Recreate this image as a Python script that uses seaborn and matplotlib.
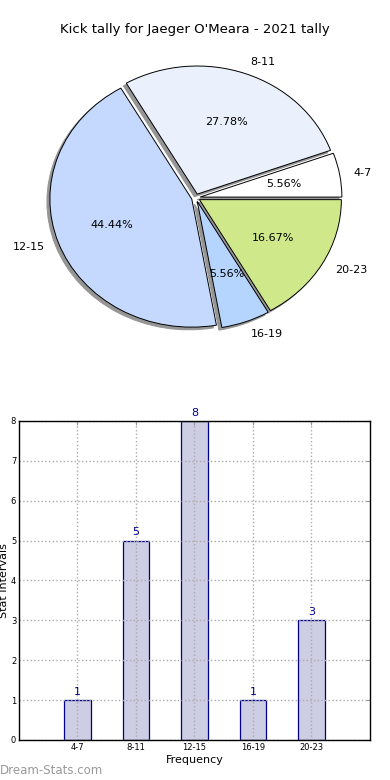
import seaborn as sns
import numpy as np
from matplotlib import pyplot as plt

intervals = ['4-7', '8-11', '12-15', '16-19', '20-23']
counts = [1, 5, 8, 1, 3]
pie_colors = ['#ffffff', '#eaf1fd', '#c5d8fd', '#b5d5fe', '#cfe98a']
title = "Kick tally for Jaeger O'Meara - 2021 tally"

sns.set_style('white')
plt.rcParams['font.family'] = ['DejaVu Sans']
plt.rcParams['text.color'] = 'black'
plt.rcParams['axes.labelcolor'] = 'black'

fig = plt.figure(figsize=[3.9, 7.8], dpi=100)

# pie on top (stretched a little wider than tall, like the original)
ax1 = fig.add_axes([0.029, 0.533, 0.946, 0.427])
wedges, texts, autotexts = ax1.pie(
    counts, labels=intervals, colors=pie_colors, explode=[0.03] * 5,
    autopct='%.2f%%', shadow={'ox': -0.015, 'oy': -0.015, 'color': '#959595',
                              'alpha': 1},
    startangle=0,
    wedgeprops={'edgecolor': 'black', 'linewidth': 0.7},
    textprops={'fontsize': 8, 'color': 'black'})
ax1.set_aspect('auto')
ax1.set_xlim(-1.3, 1.3)
ax1.set_ylim(-1.3, 1.3)
ax1.axis('off')
fig.text(0.5, 1 - 30 / 780, title, ha='center', va='center', fontsize=9.5)

# bar chart below
ax2 = fig.add_axes([0.0487, 0.0513, 0.9, 0.409])
sns.barplot(x=intervals, y=counts, color='#cdcde3', edgecolor='#00008b',
            linewidth=0.9, saturation=1, width=0.45, ax=ax2)
for i, c in enumerate(counts):
    ax2.text(i, c + 0.08, str(c), ha='center', va='bottom',
             color='#00008b', fontsize=8)
ax2.set_xlim(-1, 5)
ax2.set_ylim(0, 8)
ax2.set_yticks(range(0, 9))
ax2.set_axisbelow(False)
ax2.grid(True, linestyle=':', color='#aaaaaa', linewidth=1)
ax2.tick_params(axis='both', labelsize=6, length=3, direction='in',
                color='#999999', labelcolor='black', right=True, top=True,
                pad=2)
for sp in ax2.spines.values():
    sp.set_color('black')
    sp.set_linewidth(1)
    sp.set_zorder(4)
ax2.set_xlabel('Frequency', fontsize=8, labelpad=2)
ax2.set_ylabel('Stat Intervals', fontsize=8, labelpad=1)

fig.text(0.0, 1 - 771 / 780, 'Dream-Stats.com', ha='left', va='center',
         color='#999999', fontsize=8.5)

fig.savefig('out.png', dpi=100)
